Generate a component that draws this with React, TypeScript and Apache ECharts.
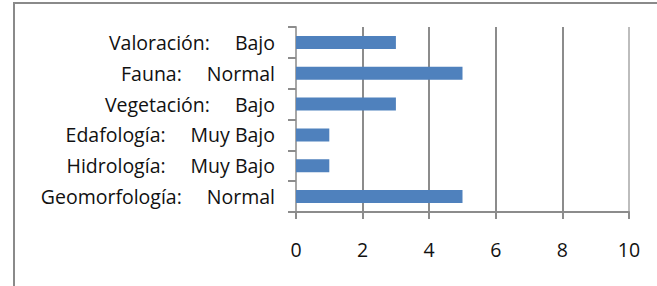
import React, { useEffect, useRef } from "react";
import * as echarts from "echarts";

const categories = ["Geomorfología:", "Hidrología:", "Edafología:", "Vegetación:", "Fauna:", "Valoración:"];
const levels = ["Normal", "Muy Bajo", "Muy Bajo", "Bajo", "Normal", "Bajo"];
const values = [5, 1, 1, 3, 5, 3];
const xTicks = [0, 2, 4, 6, 8, 10];

export default function App() {
  const ref = useRef<HTMLDivElement>(null);
  useEffect(() => {
    if (!ref.current) return;
    const chart = echarts.init(ref.current, null, { renderer: "svg" });
    const font = "'Open Sans', sans-serif";
    chart.setOption({
      animation: false,
      graphic: [
        {
          type: "rect",
          shape: { x: 14, y: 3, width: 700, height: 320 },
          style: { fill: "none", stroke: "#8a8a8a", lineWidth: 2 },
          silent: true,
        },
      ],
      grid: { left: 296, right: 28, top: 27, bottom: 74, containLabel: false },
      xAxis: {
        type: "value",
        min: xTicks[0],
        max: xTicks[xTicks.length - 1],
        interval: 2,
        axisLine: { show: true, lineStyle: { color: "#8c8c8c", width: 2 } },
        axisTick: { show: true, length: 7, lineStyle: { color: "#8c8c8c", width: 2 } },
        splitLine: {
          show: true,
          lineStyle: { color: ["#8c8c8c", "#8c8c8c", "#8c8c8c", "#8c8c8c", "#8c8c8c", "#bdbdbd"], width: 2 },
        },
        axisLabel: { color: "#111", fontFamily: font, fontSize: 19.5, margin: 27 },
      },
      yAxis: {
        type: "category",
        data: categories,
        axisLine: { show: true, lineStyle: { color: "#a6a6a6", width: 2 } },
        axisTick: { show: true, length: 8, lineStyle: { color: "#8c8c8c", width: 2 } },
        axisLabel: {
          margin: 21,
          formatter: (v: string, i: number) => `{n|${v}}{v|${levels[i]}}`,
          rich: {
            n: { color: "#111", fontFamily: font, fontSize: 19.5 },
            v: { color: "#111", fontFamily: font, fontSize: 19.5, padding: [0, 0, 0, 25] },
          },
        },
      },
      series: [
        {
          type: "bar",
          data: values,
          barCategoryGap: "58%",
          itemStyle: { color: "#4F81BD" },
        },
      ],
    });
    return () => chart.dispose();
  }, []);
  return <div ref={ref} style={{ width: 657, height: 286, position: "absolute", left: 0, top: 0 }} />;
}
